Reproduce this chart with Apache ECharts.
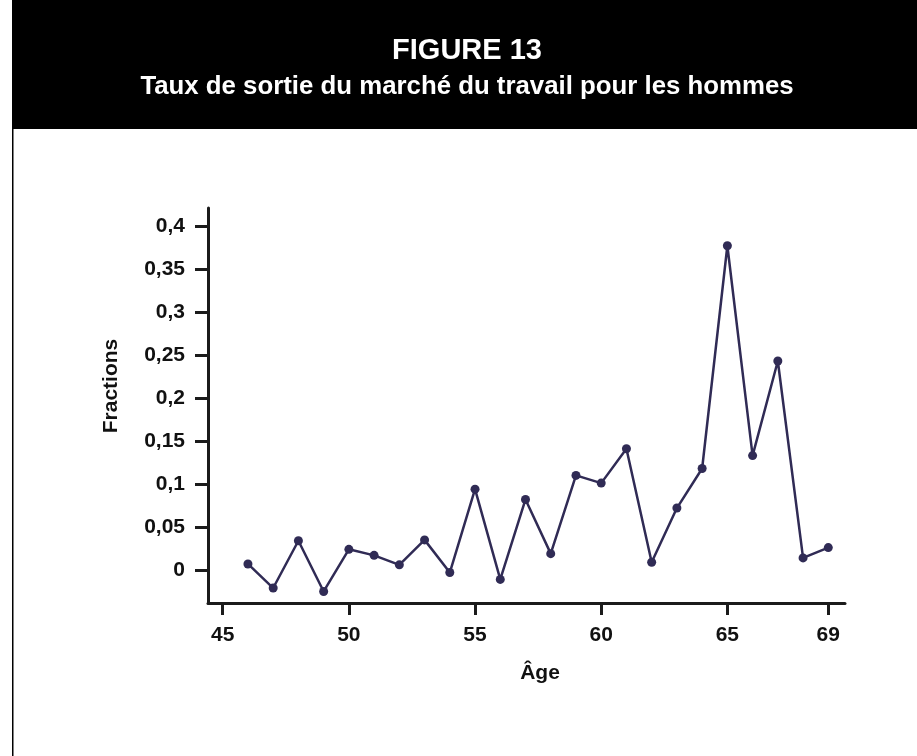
<!DOCTYPE html>
<html>
<head>
<meta charset="utf-8">
<script src="https://cdn.jsdelivr.net/npm/echarts@6/dist/echarts.min.js"></script>
<style>
html,body{margin:0;padding:0;background:#fff;}
#chart{width:917px;height:756px;}
</style>
</head>
<body>
<div id="chart"></div>
<script>
const titleText = 'FIGURE 13';
const subtitleText = 'Taux de sortie du marché du travail pour les hommes';
const xAxisName = 'Âge';
const yAxisName = 'Fractions';

const ages = [46,47,48,49,50,51,52,53,54,55,56,57,58,59,60,61,62,63,64,65,66,67,68,69];
const exitRates = [0.007,-0.021,0.034,-0.025,0.024,0.017,0.006,0.035,-0.003,0.094,-0.011,0.082,0.019,0.110,0.101,0.141,0.009,0.072,0.118,0.377,0.133,0.243,0.014,0.026];

const xTicks = [45,50,55,60,65,69];
const yTicks = [0,0.05,0.1,0.15,0.2,0.25,0.3,0.35,0.4];

const FONT = '"Liberation Sans", Arial, Helvetica, sans-serif';
const AXIS_COLOR = '#1b1b1b';
const LINE_COLOR = '#302b55';

const chart = echarts.init(document.getElementById('chart'), null, {renderer:'canvas'});

const seriesData = ages.map((a,i)=>[a, exitRates[i]]);

chart.setOption({
  animation:false,
  backgroundColor:'#ffffff',
  grid:{left:208, top:208, right:72, bottom:153, containLabel:false},
  xAxis:{
    type:'value',
    min:44.417, max:69.662,
    splitLine:{show:false},
    axisLine:{show:true, onZero:false, lineStyle:{color:AXIS_COLOR, width:3}},
    axisTick:{show:true, length:12, lineStyle:{color:AXIS_COLOR, width:3}, customValues:xTicks},
    axisLabel:{show:true, customValues:xTicks, margin:22, color:'#111', fontFamily:FONT, fontWeight:'bold', fontSize:21,
      formatter:v=>String(Math.round(v))}
  },
  yAxis:{
    type:'value',
    min:-0.0384, max:0.4209,
    splitLine:{show:false},
    axisLine:{show:true, onZero:false, lineStyle:{color:AXIS_COLOR, width:3}},
    axisTick:{show:true, length:13, lineStyle:{color:AXIS_COLOR, width:3}, customValues:yTicks},
    axisLabel:{show:true, customValues:yTicks, margin:23, color:'#111', fontFamily:FONT, fontWeight:'bold', fontSize:21,
      formatter:v=>{ const r=Math.round(v*100)/100; return String(r).replace('.',','); }}
  },
  series:[{
    type:'line',
    data:seriesData,
    symbol:'circle',
    symbolSize:9,
    lineStyle:{color:LINE_COLOR, width:2.5},
    itemStyle:{color:LINE_COLOR},
    z:5
  }],
  graphic:[
    {type:'rect', shape:{x:12, y:0, width:905, height:129}, style:{fill:'#000'}, silent:true},
    {type:'line', shape:{x1:12.75, y1:129, x2:12.75, y2:756}, style:{stroke:'#000', lineWidth:1.5}, silent:true},
    {type:'text', x:467, y:51, style:{text:titleText, fill:'#fff', font:'bold 29px '+FONT, textAlign:'center', textVerticalAlign:'middle'}},
    {type:'text', x:467, y:87, style:{text:subtitleText, fill:'#fff', font:'bold 25.8px '+FONT, textAlign:'center', textVerticalAlign:'middle'}},
    {type:'text', x:540, y:673, style:{text:xAxisName, fill:'#111', font:'bold 21px '+FONT, textAlign:'center', textVerticalAlign:'middle'}},
    {type:'text', x:111, y:386, rotation:Math.PI/2, style:{text:yAxisName, fill:'#111', font:'bold 21px '+FONT, textAlign:'center', textVerticalAlign:'middle'}}
  ]
});
</script>
</body>
</html>
